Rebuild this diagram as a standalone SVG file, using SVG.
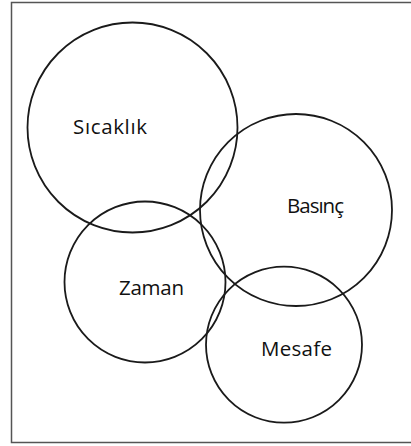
<svg xmlns="http://www.w3.org/2000/svg" width="411" height="446" viewBox="0 0 411 446">
<style>
.c{fill:none;stroke:#1a1a1a;stroke-width:1.8}
.t{font-family:"Open Sans","Noto Sans",sans-serif;font-size:20.5px;fill:#111}
.b{fill:none;stroke:#555;stroke-width:1.5}
</style>
<rect width="411" height="446" fill="#fff"/>
<path class="b" d="M411,2.5 H11.5 V442.5 H411"/>
<g id="sicaklik"><circle class="c" cx="132.5" cy="127.5" r="105"/><text class="t" x="73" y="134" textLength="74">Sıcaklık</text></g>
<g id="basinc"><circle class="c" cx="296" cy="210" r="96"/><text class="t" x="287" y="213" textLength="57">Basınç</text></g>
<g id="zaman"><circle class="c" cx="145" cy="282" r="80.5"/><text class="t" x="119" y="295" textLength="65">Zaman</text></g>
<g id="mesafe"><circle class="c" cx="284" cy="344.7" r="78"/><text class="t" x="261" y="356" textLength="71">Mesafe</text></g>
<g id="connectors"></g>
</svg>
